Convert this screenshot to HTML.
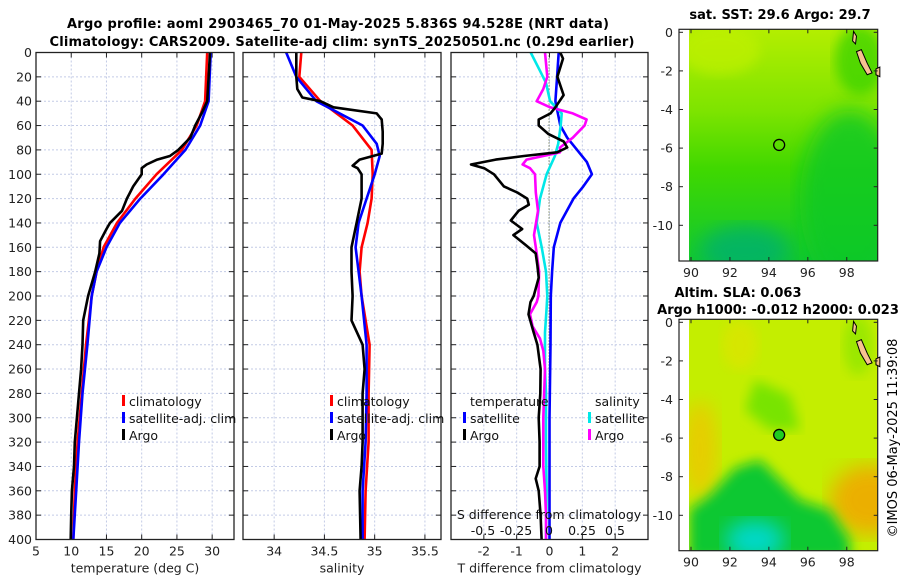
<!DOCTYPE html>
<html><head><meta charset="utf-8">
<style>
html,body{margin:0;padding:0;background:#fff;}
svg{display:block;font-family:"DejaVu Sans","Liberation Sans",sans-serif;}
</style></head>
<body>
<svg id="fig" width="900" height="580" viewBox="0 0 900 580" xmlns="http://www.w3.org/2000/svg">
<defs>
<filter id="blur6"><feGaussianBlur stdDeviation="6"/></filter>
<filter id="blur10"><feGaussianBlur stdDeviation="10"/></filter>
<clipPath id="clipm1"><rect x="689" y="29.3" width="188.7" height="231.7"/></clipPath>
<clipPath id="clipm2"><rect x="689" y="319.3" width="188.7" height="231.4"/></clipPath>
<linearGradient id="sstg" x1="0" y1="0" x2="0" y2="1">
<stop offset="0" stop-color="#b4ee00"/><stop offset="0.35" stop-color="#7ee400"/><stop offset="0.6" stop-color="#40d800"/><stop offset="1" stop-color="#10c830"/>
</linearGradient>
</defs>
<text x="338" y="28" text-anchor="middle" font-size="13" font-weight="bold" textLength="542">Argo profile: aoml 2903465_70 01-May-2025 5.836S 94.528E (NRT data)</text>
<text x="342" y="46" text-anchor="middle" font-size="13" font-weight="bold" textLength="585">Climatology: CARS2009. Satellite-adj clim: synTS_20250501.nc (0.29d earlier)</text>
<g id="plots"></g>
<g id="maps"></g>
<text transform="translate(897,438) rotate(-90)" text-anchor="middle" font-size="13">©IMOS 06-May-2025 11:39:08</text>
</svg>
<script>
// ---------- data ----------
const depthT = [0,40,50,60,70,80,85,88,92,95,100,110,120,130,140,145,155,165,180,200,220,240,260,280,300,320,340,360,380,400];
const tempArgo = [29.7,29.3,28.5,27.6,26.9,25.2,24.0,22.2,20.7,20.0,20.0,18.8,17.9,17.2,15.5,15.0,14.1,14.0,13.4,12.4,11.7,11.6,11.4,11.1,10.8,10.5,10.4,10.1,10.0,9.93];
const depthC = [0,40,60,80,100,120,140,160,180,200,240,280,320,360,400];
const tempClim = [29.3,29.0,27.8,25.7,22.1,19.1,16.5,14.6,13.6,12.9,12.1,11.5,10.9,10.5,10.3];
const tempSat = [29.8,29.5,28.3,26.2,23.1,19.8,16.9,15.0,13.6,12.9,12.3,11.6,11.1,10.7,10.3];

const depthSA = [0,20,30,37,40,45,50,55,65,75,83,88,93,95,100,120,140,160,180,200,220,240,260,280,300,320,340,360,380,400];
const salArgo = [34.22,34.22,34.23,34.28,34.46,34.59,35.02,35.07,35.08,35.08,35.07,34.85,34.78,34.83,34.87,34.87,34.82,34.77,34.77,34.78,34.77,34.88,34.90,34.88,34.88,34.88,34.87,34.85,34.855,34.86];
const depthSC = [0,20,40,60,80,100,120,140,160,180,200,240,280,320,360,400];
const salClim = [34.27,34.25,34.46,34.78,34.97,34.98,34.97,34.93,34.87,34.85,34.87,34.95,34.94,34.94,34.91,34.90];
const depthSS = [0,20,40,60,75,85,100,120,140,160,180,200,240,280,320,360,400];
const salSat = [34.12,34.22,34.42,34.88,35.02,35.05,35.00,34.92,34.84,34.81,34.84,34.87,34.92,34.92,34.91,34.88,34.88];

const depthDTA = [0,5,20,35,45,50,55,60,67,73,78,82,85,88,92,95,100,105,110,115,120,125,130,138,145,150,158,165,175,185,200,205,215,230,240,260,280,300,320,340,350,360,380,400];
const dTArgo = [0.33,0.41,0.24,0.43,0.18,0.03,-0.33,-0.33,-0.03,0.43,0.54,0.23,-0.78,-1.64,-2.39,-1.99,-1.69,-1.54,-1.39,-0.98,-0.68,-0.63,-0.94,-1.18,-0.83,-1.10,-0.73,-0.42,-0.37,-0.33,-0.48,-0.58,-0.64,-0.48,-0.37,-0.27,-0.28,-0.33,-0.30,-0.30,-0.42,-0.33,-0.27,-0.24];
const depthDTS = [0,20,40,60,70,80,90,100,110,120,140,160,180,200,240,300,400];
const dTSat = [0.28,0.23,0.18,0.33,0.54,0.84,1.14,1.29,1.03,0.73,0.33,0.13,0.08,0.04,0.03,0.0,0.0];
const depthDSS = [0,15,25,40,50,60,75,85,100,120,140,160,180,200,210,230,260,280,320,360,400];
const dSSat = [-0.139,-0.068,-0.023,0.008,0.096,0.089,0.07,0.045,-0.018,-0.068,-0.093,-0.055,-0.023,-0.013,-0.018,-0.03,-0.03,-0.023,-0.023,-0.018,-0.023];
const depthDSA = [0,20,30,40,45,50,55,60,70,78,82,88,92,95,100,115,130,150,165,180,200,205,215,225,235,245,260,300,340,360,380,400];
const dSArgo = [-0.03,-0.013,-0.043,-0.093,0.008,0.18,0.285,0.27,0.18,0.083,0.083,-0.17,-0.2,-0.144,-0.106,-0.1,-0.083,-0.114,-0.093,-0.075,-0.08,-0.093,-0.144,-0.124,-0.068,-0.043,-0.03,-0.043,-0.043,-0.03,-0.023,-0.023];

const depthTicks = [0,20,40,60,80,100,120,140,160,180,200,220,240,260,280,300,320,340,360,380,400];
const tempTicks = [5,10,15,20,25,30];
const salTicks = [34,34.5,35,35.5];
const salTickLabels = ["34","34.5","35","35.5"];
const dTTicks = [-2,-1,0,1,2];
const dSTicks = [-0.5,-0.25,0,0.25,0.5];
const dSTickLabels = ["-0.5","-0.25","0","0.25","0.5"];
const lonTicks = [90,92,94,96,98];
const latTicks = [0,-2,-4,-6,-8,-10];
const floatLon = 94.528, floatLat = -5.836;

// ---------- helpers ----------
const NS = "http://www.w3.org/2000/svg";
const plots = document.getElementById('plots');
const maps = document.getElementById('maps');
function mk(tag, attrs, parent){ const e=document.createElementNS(NS,tag); for(const k in attrs) e.setAttribute(k,attrs[k]); (parent||plots).appendChild(e); return e; }
const Y0=52.5, Y1=539.5;
const yD = d => Y0 + (d/400)*(Y1-Y0);

function panel(name, x0, x1, vmin, vmax, ticks, labels, xlabel, showY){
  const xs = v => x0 + (v-vmin)/(vmax-vmin)*(x1-x0);
  const g = mk('g',{});
  
  
  // grid
  depthTicks.forEach(d=>{ if(d>0&&d<400){ const l=mk('line',{x1:x0,x2:x1,y1:yD(d),y2:yD(d),stroke:'#c3cbe6','stroke-width':1,'stroke-dasharray':'2,2'},g);
      } });
  ticks.forEach((t,i)=>{ const x=xs(t);
    if(x>x0+1&&x<x1-1){ const l=mk('line',{x1:x,x2:x,y1:Y0,y2:Y1,stroke:'#c3cbe6','stroke-width':1,'stroke-dasharray':'2,2'},g);
        }
    mk('line',{x1:x,x2:x,y1:Y1,y2:Y1-5,stroke:'#222'},g); mk('line',{x1:x,x2:x,y1:Y0,y2:Y0+5,stroke:'#222'},g);
    if(labels){ const tx=mk('text',{x:x,y:Y1+16,'text-anchor':'middle','font-size':12.5,fill:'#222'},g); tx.textContent=labels[i];
        }
  });
  depthTicks.forEach(d=>{ mk('line',{x1:x0,x2:x0+5,y1:yD(d),y2:yD(d),stroke:'#222'},g); mk('line',{x1:x1,x2:x1-5,y1:yD(d),y2:yD(d),stroke:'#222'},g);
    if(showY){ const tx=mk('text',{x:x0-4,y:yD(d)+4.5,'text-anchor':'end','font-size':12.5,fill:'#222'},g); tx.textContent=d;
        } });
  if(xlabel){ const tx=mk('text',{x:(x0+x1)/2,y:Y1+33,'text-anchor':'middle','font-size':12.5,fill:'#222'},g); tx.textContent=xlabel;
      }
  return {g, xs, x0, x1};
}
function line(p, name, depths, vals, color, w){
  const pts = depths.map((d,i)=>p.xs(vals[i]).toFixed(1)+','+yD(d).toFixed(1)).join(' ');
  const l = mk('polyline',{points:pts,fill:'none',stroke:color,'stroke-width':w||2.6,'stroke-linejoin':'round'},p.g);
  
  
}
function frame(p){ mk('rect',{x:p.x0,y:Y0,width:p.x1-p.x0,height:Y1-Y0,fill:'none',stroke:'#222','stroke-width':1.3},p.g); }
function legendEntry(g,x,y,color,text,name){
  const m=mk('rect',{x:x,y:y-11,width:3,height:11,fill:color},g);
  const t=mk('text',{x:x+7,y:y,'font-size':12.5,fill:'#111'},g); t.textContent=text;
  
  
}

// ---------- panel 1: temperature ----------
const p1 = panel('temperature-panel',36,234,5,33.1,tempTicks,tempTicks.map(String),'temperature (deg C)',true);
line(p1,'temp-climatology-line',depthC,tempClim,'#ff0000');
line(p1,'temp-satellite-line',depthC,tempSat,'#0000ff');
line(p1,'temp-argo-line',depthT,tempArgo,'#000000');
frame(p1);
legendEntry(p1.g,122,406,'#ff0000','climatology','legend-climatology');
legendEntry(p1.g,122,423,'#0000ff','satellite-adj. clim','legend-satellite');
legendEntry(p1.g,122,440,'#000000','Argo','legend-argo');

// ---------- panel 2: salinity ----------
const p2 = panel('salinity-panel',243,441,33.69,35.66,salTicks,salTickLabels,'salinity',false);
line(p2,'sal-climatology-line',depthSC,salClim,'#ff0000');
line(p2,'sal-satellite-line',depthSS,salSat,'#0000ff');
line(p2,'sal-argo-line',depthSA,salArgo,'#000000');
frame(p2);
legendEntry(p2.g,330,406,'#ff0000','climatology','legend-climatology-sal');
legendEntry(p2.g,330,423,'#0000ff','satellite-adj. clim','legend-satellite-sal');
legendEntry(p2.g,330,440,'#000000','Argo','legend-argo-sal');

// ---------- panel 3: differences ----------
const p3 = panel('difference-panel',451,648,-3,3,dTTicks,dTTicks.map(String),'T difference from climatology',false);
const p3s = {g:p3.g, xs: v => 549 + v*132, x0:451, x1:648};
const zl = mk('line',{x1:549,x2:549,y1:Y0,y2:Y1,stroke:'#445522','stroke-width':1,'stroke-dasharray':'1,2'},p3.g);
 
line(p3,'dT-satellite-line',depthDTS,dTSat,'#0000ff');
line(p3s,'dS-satellite-line',depthDSS,dSSat,'#00e8e8');
line(p3s,'dS-argo-line',depthDSA,dSArgo,'#ff00ff');
line(p3,'dT-argo-line',depthDTA,dTArgo,'#000000');
frame(p3);
(function(){
  const t1=mk('text',{x:470,y:406,'font-size':12.5,fill:'#111'},p3.g); t1.textContent='temperature';
   
  const t2=mk('text',{x:595,y:406,'font-size':12.5,fill:'#111'},p3.g); t2.textContent='salinity';
   
  legendEntry(p3.g,463,423,'#0000ff','satellite','legend-dT-satellite');
  legendEntry(p3.g,463,440,'#000000','Argo','legend-dT-argo');
  legendEntry(p3.g,588,423,'#00e8e8','satellite','legend-dS-satellite');
  legendEntry(p3.g,588,440,'#ff00ff','Argo','legend-dS-argo');
  const st=mk('text',{x:549,y:519,'text-anchor':'middle','font-size':12.5,fill:'#111'},p3.g); st.textContent='S difference from climatology';
   
  dSTicks.forEach((v,i)=>{ const t=mk('text',{x:p3s.xs(v),y:535,'text-anchor':'middle','font-size':12.5,fill:'#111'},p3.g); t.textContent=dSTickLabels[i];
      });
})();

// ---------- maps ----------
const MX0=679, MX1=877.7;
const lx = lon => 691 + (lon-90)*19.47;
function mapAxes(name, top, bot, lat0y, title1, title2, clip){
  const ly = lat => lat0y - lat*19.3;
  const g = mk('g',{},maps);
  
  
  const body = mk('g',{'clip-path':'url(#'+clip+')'},g);
  return {g, body, ly, top, bot};
}
function finishMap(m, titles){
  mk('rect',{x:MX0,y:m.top,width:MX1-MX0,height:m.bot-m.top,fill:'none',stroke:'#222','stroke-width':1.2},m.g);
  // land
  const land = [[98.35,0.05],[98.5,-0.2],[98.45,-0.6],[98.3,-0.45]];
  const land2 = [[98.5,-1.0],[98.75,-0.9],[99.05,-1.6],[99.3,-2.1],[99.05,-2.2],[98.7,-1.6]];
  const land3 = [[99.5,-1.9],[99.7,-1.8],[99.7,-2.3],[99.5,-2.2]];
  [land,land2,land3].forEach(L=>{ const p=mk('polygon',{points:L.map(q=>lx(q[0])+','+m.ly(q[1])).join(' '),fill:'#f6c290',stroke:'#000','stroke-width':1},m.g);
      });
  const c=mk('circle',{cx:lx(floatLon),cy:m.ly(floatLat),r:5.5,fill:'none',stroke:'#000','stroke-width':1.3},m.g);
   
  lonTicks.forEach(v=>{ const x=lx(v); mk('line',{x1:x,x2:x,y1:m.bot,y2:m.bot-4,stroke:'#222'},m.g); mk('line',{x1:x,x2:x,y1:m.top,y2:m.top+4,stroke:'#222'},m.g);
    const t=mk('text',{x:x,y:m.bot+16,'text-anchor':'middle','font-size':12.5,fill:'#222'},m.g); t.textContent=v;
      });
  latTicks.forEach(v=>{ const y=m.ly(v); mk('line',{x1:MX0,x2:MX0+4,y1:y,y2:y,stroke:'#222'},m.g); mk('line',{x1:MX1,x2:MX1-4,y1:y,y2:y,stroke:'#222'},m.g);
    const t=mk('text',{x:MX0-6,y:y+4.5,'text-anchor':'end','font-size':12.5,fill:'#222'},m.g); t.textContent=v;
      });
  titles.forEach((tt,i)=>{ const t=mk('text',{x:tt[1],y:tt[2],'text-anchor':'middle','font-size':13,'font-weight':'bold',fill:'#000'},m.g); t.textContent=tt[0];
      });
}
// SST map
const m1 = mapAxes('sst-map',29.3,261,32.3,null,null,'clipm1');
mk('rect',{x:689,y:29,width:190,height:233,fill:'url(#sstg)'},m1.body);
mk('ellipse',{cx:850,cy:200,rx:50,ry:90,fill:'#10c828',opacity:0.8,filter:'url(#blur10)'},m1.body);
mk('ellipse',{cx:745,cy:250,rx:45,ry:25,fill:'#00b070',opacity:0.8,filter:'url(#blur10)'},m1.body);
mk('ellipse',{cx:860,cy:60,rx:25,ry:35,fill:'#30d000',opacity:0.7,filter:'url(#blur6)'},m1.body);
mk('ellipse',{cx:720,cy:50,rx:40,ry:25,fill:'#c0f000',opacity:0.7,filter:'url(#blur6)'},m1.body);
finishMap(m1,[['sat. SST: 29.6 Argo: 29.7',780,19]]);
// SLA map
const m2 = mapAxes('sla-map',319.3,550.7,322.3,null,null,'clipm2');
mk('rect',{x:689,y:319,width:190,height:232,fill:'#c4ee00'},m2.body);
mk('ellipse',{cx:700,cy:450,rx:18,ry:50,fill:'#f0c400',opacity:0.8,filter:'url(#blur10)'},m2.body);
mk('ellipse',{cx:870,cy:500,rx:40,ry:35,fill:'#f0a800',opacity:0.9,filter:'url(#blur10)'},m2.body);
mk('ellipse',{cx:740,cy:345,rx:18,ry:25,fill:'#e8e000',opacity:0.5,filter:'url(#blur6)'},m2.body);
mk('polygon',{points:'755,380 790,395 800,430 770,430 745,410',fill:'#78e400',filter:'url(#blur6)'},m2.body);
mk('polygon',{points:'689,510 710,495 735,468 760,460 780,480 800,500 830,510 850,540 850,560 689,560',fill:'#08c830',filter:'url(#blur6)'},m2.body);
mk('ellipse',{cx:755,cy:540,rx:30,ry:20,fill:'#00d8c8',filter:'url(#blur10)'},m2.body);
mk('ellipse',{cx:858,cy:345,rx:15,ry:30,fill:'#80e400',opacity:0.6,filter:'url(#blur6)'},m2.body);
mk('circle',{cx:lx(floatLon),cy:m2.ly(floatLat),r:5.5,fill:'#20cc20'},m2.body);
finishMap(m2,[['Altim. SLA: 0.063',738,297],['Argo h1000: -0.012 h2000: 0.023',778,314]]);
</script>
</body></html>
